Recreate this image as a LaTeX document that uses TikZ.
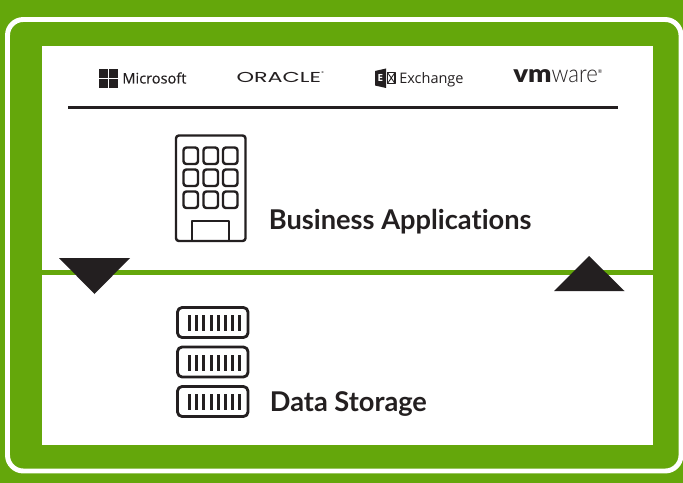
\documentclass[tikz,border=0pt]{standalone}
\usepackage{fontspec}
\usepackage[usenames]{xcolor}
\setmainfont[Ligatures=NoCommon]{Lato}
\newfontfamily\logofont{Open Sans}
\newfontfamily\logoboldfont[FakeBold=0.25]{Open Sans}
\newfontfamily\oraclefont{Poppins}
\definecolor{leafgreen}{HTML}{64A70B}
\definecolor{inkblack}{HTML}{231F20}
\tikzset{
  heading/.style={anchor=base west,inner sep=0pt,text=inkblack,font=\fontsize{15.5}{17}\bfseries},
  logotext/.style={anchor=base west,inner sep=0pt,text=inkblack},
  iconline/.style={draw=inkblack,line width=1.4pt,rounded corners=1.6pt},
  stackbox/.style={draw=inkblack,line width=1.6pt,rounded corners=2.6pt}
}
\begin{document}
\begin{tikzpicture}[line cap=butt,line join=round,x=0.02cm,y=-0.02cm]
\useasboundingbox (0,0) rectangle (683,483);
\fill[leafgreen] (0,0) rectangle (683,483);
\draw[white,line width=2.8pt,rounded corners=9pt] (7.5,19.5) rectangle (681,471);
\fill[white] (42,46) rectangle (653,445);
% logos
\fill[inkblack] (99,69) rectangle (107.7,77.7);
\fill[inkblack] (109,69) rectangle (117.7,77.7);
\fill[inkblack] (99,79) rectangle (107.7,87.7);
\fill[inkblack] (109,79) rectangle (117.7,87.7);
\node[logotext,font=\logoboldfont\fontsize{8.3}{10}\selectfont] (microsoft) at (122,83.5) {Microsoft};
\node[logotext,font=\oraclefont\fontsize{8.2}{10}\selectfont,xscale=1.55] (oracle) at (236,83) {ORACLE\raisebox{1.1ex}{\fontsize{2.2}{3}\selectfont\textregistered}};
\fill[inkblack] (375,71) -- (386,68.5) -- (386,88) -- (375,85.5) -- cycle;
\draw[inkblack,line width=0.7pt] (387.5,72.5) rectangle (395,83.5);
\draw[inkblack,line width=0.5pt] (387.5,72.5) -- (395,83.5) (395,72.5) -- (387.5,83.5);
\node[text=white,inner sep=0pt,font=\logofont\fontsize{5.6}{6}\bfseries] (exchangeE) at (380.3,78) {E};
\node[logotext,font=\logofont\fontsize{8.25}{10}\selectfont] (exchange) at (399,83.5) {Exchange};
\node[logotext,font=\fontsize{14}{15}\selectfont] (vmware) at (513,83) {\scalebox{1.12}[1]{\fontspec{Lato Black}vm}\scalebox{0.9}[1]{\fontspec{Lato Light}ware}\raisebox{0.75ex}{\fontsize{3}{4}\selectfont\textregistered}};
\draw[inkblack,line width=1.45pt] (68,107.5) -- (618,107.5);
% building
\draw[iconline] (176,135.5) rectangle (245.5,241);
\foreach \x in {183.5,203.5,223} {
  \foreach \y in {147.5,169.5,191.5} {
    \draw[iconline] (\x,\y) rectangle ++(14.5,16.5);
  }
}
\draw[draw=inkblack,line width=1.4pt] (192,241) -- (192,221) -- (229,221) -- (229,241);
\node[heading] (business) at (268.5,229.5) {Business Applications};
% divider and arrows
\draw[leafgreen,line width=2.5pt] (42,272.5) -- (653,272.5);
\fill[inkblack] (59,258) -- (130,258) -- (94.5,294) -- cycle;
\fill[inkblack] (554,291) -- (624.5,291) -- (589,256) -- cycle;
% storage
\foreach \y in {307.5,347,386.5} {
  \draw[stackbox] (177.5,\y) rectangle ++(70.5,30);
  \foreach \x in {0,...,7} {
    \fill[inkblack] (188+\x*7.2,\y+7.5) rectangle ++(3,16);
  }
}
\node[heading] (storage) at (269.5,411.5) {Data Storage};
\end{tikzpicture}
\end{document}
